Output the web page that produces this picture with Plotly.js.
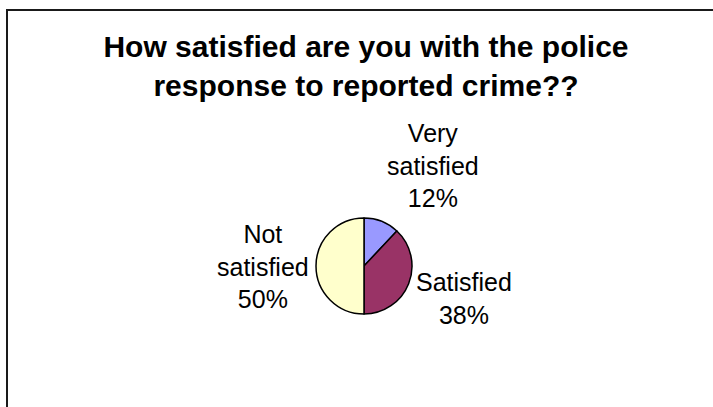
<!DOCTYPE html>
<html>
<head>
<meta charset="utf-8">
<script src="https://cdn.plot.ly/plotly-3.0.1.min.js"></script>
<style>html,body{margin:0;padding:0;background:#fff;}#chart{width:713px;height:407px;}</style>
</head>
<body>
<div id="chart"></div>
<script>
const categories = ["Very satisfied", "Satisfied", "Not satisfied"];
const categoryLines = ["Very<br>satisfied", "Satisfied", "Not<br>satisfied"];
const shares = [12, 38, 50];
const sliceColors = ["#9999FF", "#993366", "#FFFFCC"];
const chartTitle = "How satisfied are you with the police<br>response to reported crime??";

// label placement (paper pixels from top-left) — layout only
const labelCentres = [[433, 166], [464, 298], [263, 266]];

const total = shares.reduce((a, b) => a + b, 0);

const trace = {
  type: "pie",
  labels: categories,
  values: shares,
  sort: false,
  direction: "clockwise",
  rotation: 0,
  marker: {colors: sliceColors, line: {color: "#000000", width: 1.5}},
  textinfo: "none",
  hoverinfo: "none",
  showlegend: false,
  domain: {x: [316/713, 412/713], y: [(407-314)/407, (407-218)/407]}
};

const annotations = categories.map((c, i) => ({
  xref: "paper", yref: "paper",
  x: labelCentres[i][0] / 713,
  y: 1 - labelCentres[i][1] / 407,
  xanchor: "center", yanchor: "middle", align: "center",
  showarrow: false,
  text: categoryLines[i] + "<br>" + Math.round(shares[i] / total * 100) + "%",
  font: {family: "Liberation Sans, Arial, sans-serif", size: 25, color: "#000000"}
}));

const layout = {
  width: 713,
  height: 407,
  margin: {l: 0, r: 0, t: 0, b: 0},
  paper_bgcolor: "#ffffff",
  plot_bgcolor: "#ffffff",
  showlegend: false,
  title: {
    text: chartTitle,
    font: {family: "Liberation Sans, Arial, sans-serif", size: 30, color: "#000000", weight: "bold"},
    x: 366/713,
    xanchor: "center",
    xref: "paper",
    y: 1 - 57/407,
    yanchor: "top",
    yref: "container"
  },
  annotations: annotations,
  shapes: [
    {type: "line", xref: "paper", yref: "paper", x0: 7/713, x1: 7/713, y0: -0.05, y1: 1 - 10/407, line: {color: "#1a1a1a", width: 2}},
    {type: "line", xref: "paper", yref: "paper", x0: 7/713 - 0.0014, x1: 1.05, y0: 1 - 10/407, y1: 1 - 10/407, line: {color: "#1a1a1a", width: 2}}
  ]
};

Plotly.newPlot("chart", [trace], layout, {staticPlot: true, displayModeBar: false});
</script>
</body>
</html>
